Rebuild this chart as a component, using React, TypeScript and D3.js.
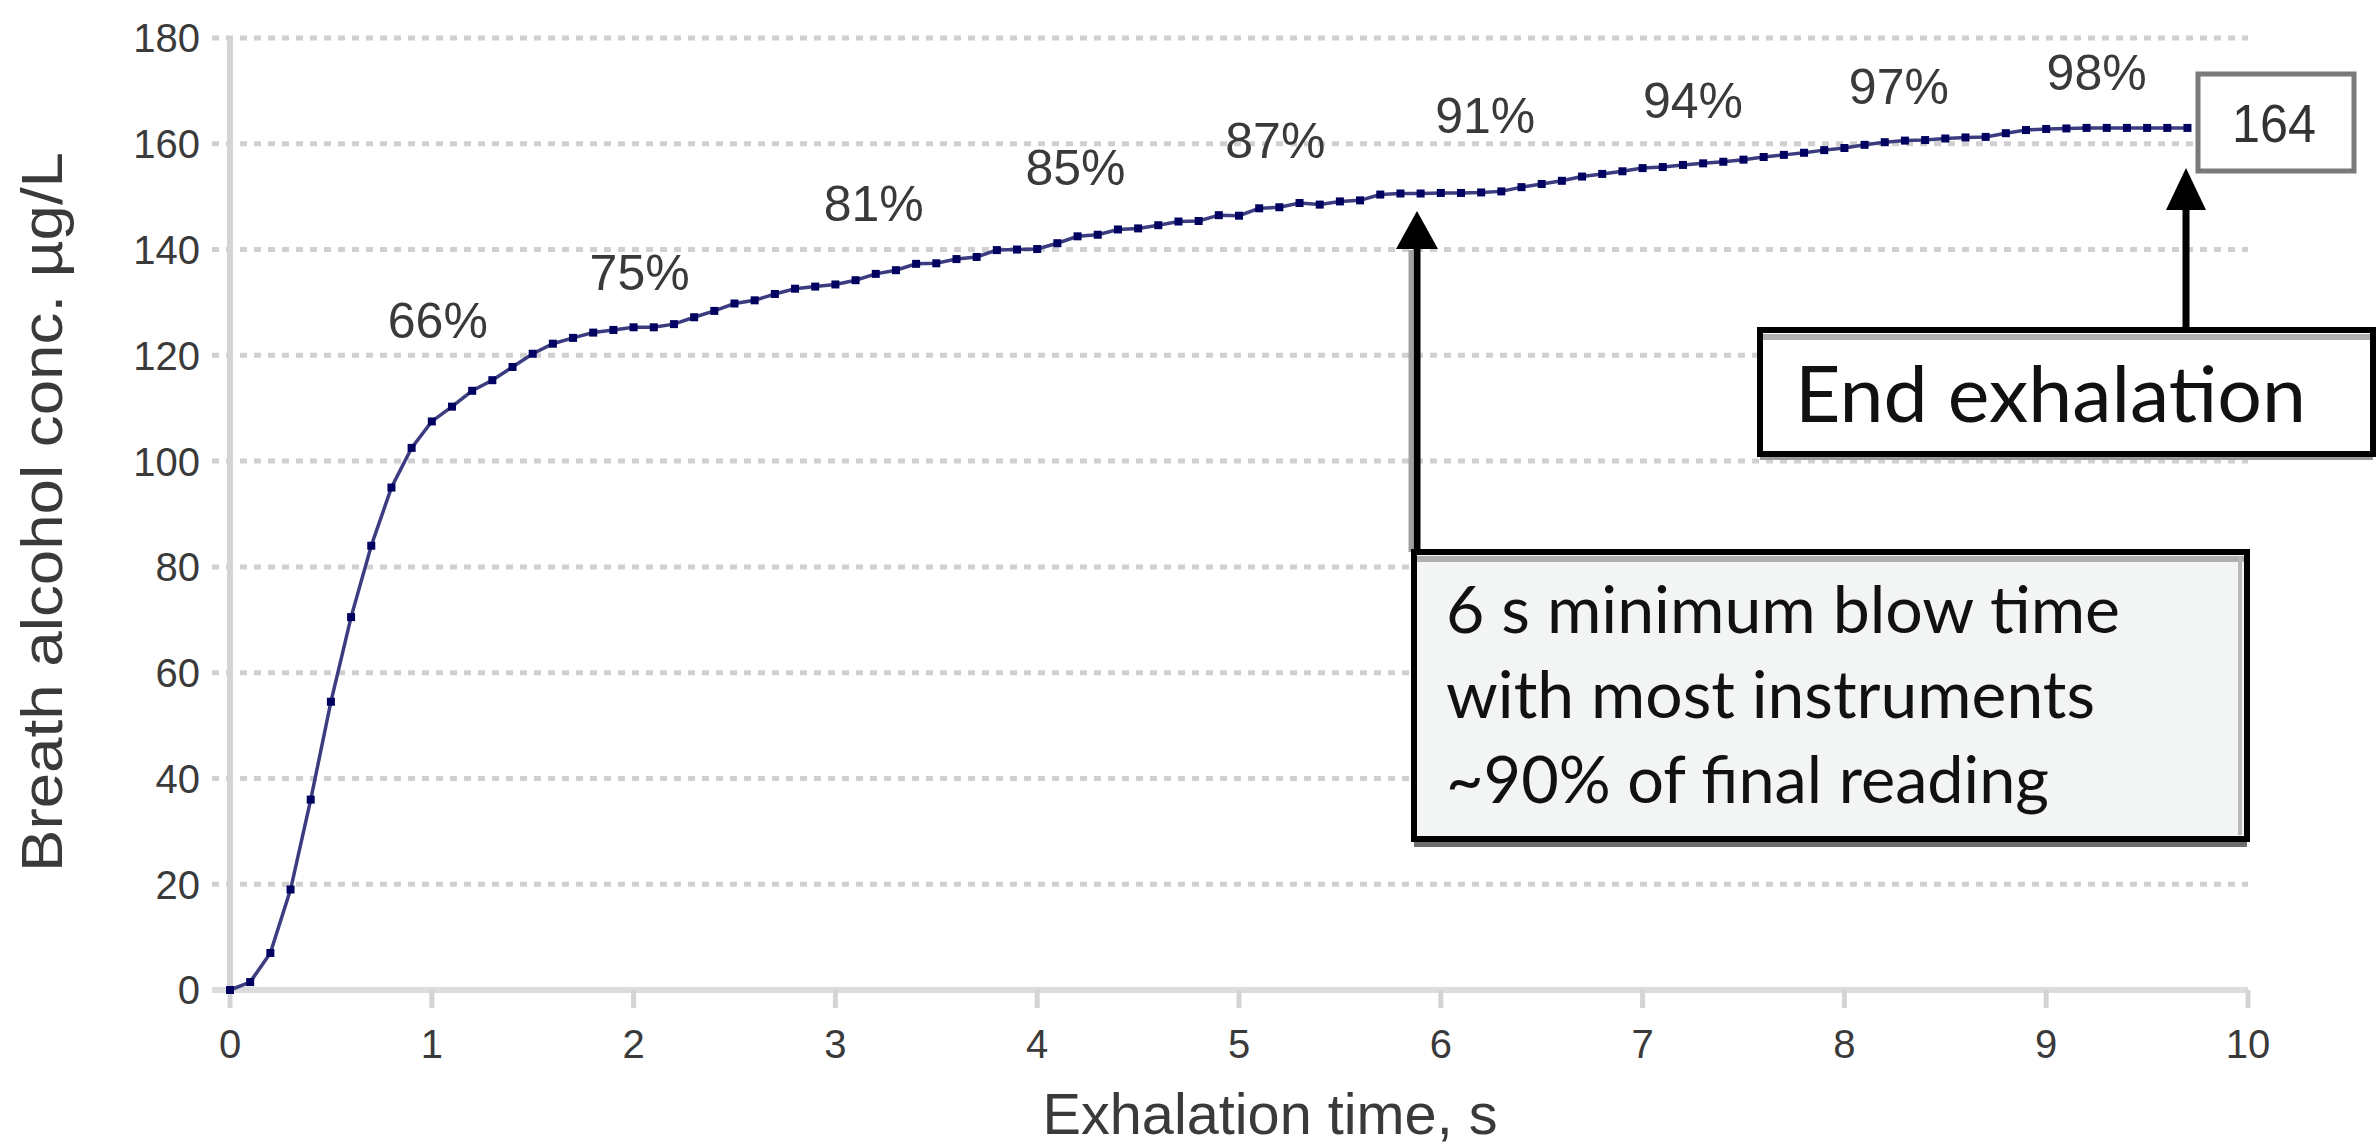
import React from "react";
import * as d3 from "d3";

// ---- data ----
const times = [
  0.0, 0.1, 0.2, 0.3, 0.4, 0.5, 0.6, 0.7, 0.8, 0.9,
  1.0, 1.1, 1.2, 1.3, 1.4, 1.5, 1.6, 1.7, 1.8, 1.9,
  2.0, 2.1, 2.2, 2.3, 2.4, 2.5, 2.6, 2.7, 2.8, 2.9,
  3.0, 3.1, 3.2, 3.3, 3.4, 3.5, 3.6, 3.7, 3.8, 3.9,
  4.0, 4.1, 4.2, 4.3, 4.4, 4.5, 4.6, 4.7, 4.8, 4.9,
  5.0, 5.1, 5.2, 5.3, 5.4, 5.5, 5.6, 5.7, 5.8, 5.9,
  6.0, 6.1, 6.2, 6.3, 6.4, 6.5, 6.6, 6.7, 6.8, 6.9,
  7.0, 7.1, 7.2, 7.3, 7.4, 7.5, 7.6, 7.7, 7.8, 7.9,
  8.0, 8.1, 8.2, 8.3, 8.4, 8.5, 8.6, 8.7, 8.8, 8.9,
  9.0, 9.1, 9.2, 9.3, 9.4, 9.5, 9.6, 9.7,
];
const concentration = [
  0, 1.5, 7, 19, 36, 54.5, 70.5, 84, 95, 102.5,
  107.5, 110.3, 113.3, 115.3, 117.8, 120.3, 122.2, 123.3, 124.3, 124.8,
  125.3, 125.3, 125.9, 127.2, 128.4, 129.8, 130.4, 131.6, 132.6, 133.0,
  133.4, 134.2, 135.4, 136.1, 137.3, 137.4, 138.2, 138.6, 139.9, 140.0,
  140.1, 141.2, 142.5, 142.8, 143.8, 144.0, 144.6, 145.3, 145.4, 146.5,
  146.4, 147.8, 148.0, 148.8, 148.5, 149.1, 149.3, 150.4, 150.6, 150.6,
  150.7, 150.7, 150.8, 151.0, 151.8, 152.4, 153.0, 153.8, 154.3, 154.8,
  155.4, 155.6, 156.0, 156.3, 156.6, 157.0, 157.5, 157.9, 158.3, 158.8,
  159.2, 159.8, 160.3, 160.6, 160.7, 161.0, 161.2, 161.3, 162.0, 162.6,
  162.8, 162.9, 163.0, 163.0, 163.0, 163.0, 163.0, 163.0,
];
const yTicks = [0, 20, 40, 60, 80, 100, 120, 140, 160, 180];
const xTicks = [0, 1, 2, 3, 4, 5, 6, 7, 8, 9, 10];
const pctLabels = ["66%", "75%", "81%", "85%", "87%", "91%", "94%", "97%", "98%"];
const pctLabelT = [1.03, 2.03, 3.19, 4.19, 5.18, 6.22, 7.25, 8.27, 9.25];
const pctLabelV = [126.7, 135.7, 148.8, 155.7, 160.7, 165.4, 168.3, 171.0, 173.6];
const finalReading = "164";
const xTitle = "Exhalation time, s";
const yTitle = "Breath alcohol conc. \u00b5g/L";
const endLabel = "End exhalation";
const noteLines = ["6 s minimum blow time", "with most instruments", "~90% of final reading"];

const W = 2377;
const H = 1146;
const AX = "'Liberation Sans', Arial, sans-serif";
const CAL = "Lato, 'Open Sans', sans-serif";

export default function App() {
  const x = d3.scaleLinear().domain([0, 10]).range([230, 2248]);
  const y = d3.scaleLinear().domain([0, 180]).range([990, 38]);
  const pts = times.map((t, i) => [t, concentration[i]] as [number, number]);
  const line = d3.line<[number, number]>().x((d) => x(d[0])).y((d) => y(d[1]));

  React.useEffect(() => {
    document.body.style.margin = "0";
  }, []);

  const ms = 8;
  return (
    <div style={{ position: "absolute", left: 0, top: 0 }}>
      <svg width={W} height={H} viewBox={`0 0 ${W} ${H}`} style={{ display: "block", background: "#fff" }}>
        {/* gridlines */}
        {yTicks.filter((v) => v > 0).map((v) => (
          <line key={"g" + v} x1={212} x2={x(10)} y1={y(v)} y2={y(v)}
            stroke="#d0d0d0" strokeWidth={5} strokeDasharray="7,7" />
        ))}
        {/* axes */}
        <line x1={x(0)} x2={x(0)} y1={y(180)} y2={y(0)} stroke="#d4d4d4" strokeWidth={6} />
        <line x1={212} x2={x(10)} y1={y(0)} y2={y(0)} stroke="#dcdcdc" strokeWidth={6} />
        {xTicks.map((t) => (
          <line key={"xt" + t} x1={x(t)} x2={x(t)} y1={y(0)} y2={y(0) + 18} stroke="#d4d4d4" strokeWidth={5} />
        ))}
        {yTicks.map((v) => (
          <text key={"yl" + v} x={200} y={y(v)} dy="0.36em" textAnchor="end"
            fontFamily={AX} fontSize={40} fill="#3a3a3a">{v}</text>
        ))}
        {xTicks.map((t) => (
          <text key={"xl" + t} x={x(t)} y={1044} dy="0.36em" textAnchor="middle"
            fontFamily={AX} fontSize={40} fill="#3a3a3a">{t}</text>
        ))}
        <text x={1270} y={1134} textAnchor="middle" fontFamily={AX} fontSize={58} fill="#3a3a3a"
          textLength={455} lengthAdjust="spacingAndGlyphs">{xTitle}</text>
        <text transform={`translate(62, ${512}) rotate(-90)`} textAnchor="middle" fontFamily={AX}
          fontSize={58} fill="#3a3a3a" textLength={720} lengthAdjust="spacingAndGlyphs">{yTitle}</text>

        {/* series */}
        <path d={line(pts) || ""} fill="none" stroke="#3c3c80" strokeWidth={3.5} />
        {pts.map((p, i) => (
          <rect key={"m" + i} x={x(p[0]) - ms / 2} y={y(p[1]) - ms / 2} width={ms} height={ms} fill="#000060" />
        ))}

        {/* percentage labels */}
        {pctLabels.map((s, i) => (
          <text key={"p" + i} x={x(pctLabelT[i])} y={y(pctLabelV[i])} dy="0.36em" textAnchor="middle"
            fontFamily={AX} fontSize={50} fill="#3a3a3a">{s}</text>
        ))}

        {/* final reading box */}
        <rect x={2198} y={74} width={156} height={97} fill="#fff" stroke="#7a7a7a" strokeWidth={5} />
        <text x={2274} y={123} dy="0.36em" textAnchor="middle" fontFamily={AX} fontSize={54} fill="#333"
          textLength={84} lengthAdjust="spacingAndGlyphs">{finalReading}</text>

        {/* end exhalation arrow */}
        <line x1={2186} x2={2186} y1={330} y2={200} stroke="#000" strokeWidth={7} />
        <path d="M2186,168 L2206,210 L2166,210 Z" fill="#000" />
        {/* end exhalation box */}
        <rect x={1760} y={336} width={613} height={124} fill="#9a9a9a" />
        <rect x={1760} y={330} width={613} height={124} fill="#fff" stroke="#000" strokeWidth={6} />
        <line x1={1763} x2={2370} y1={337} y2={337} stroke="#b0b0b0" strokeWidth={6} />
        <text x={1795} y={422} fontFamily={CAL} fontSize={78} fill="#111"
          textLength={511} lengthAdjust="spacingAndGlyphs">{endLabel}</text>

        {/* 6 s arrow */}
        <line x1={1417} x2={1417} y1={552} y2={245} stroke="#000" strokeWidth={7} />
        <line x1={1411} x2={1411} y1={552} y2={250} stroke="#a0a0a0" strokeWidth={5} />
        <path d="M1417,211 L1438,249 L1396,249 Z" fill="#000" />
        {/* 6 s note box */}
        <rect x={1414} y={560} width={833} height={287} fill="#6e6e6e" />
        <rect x={1414} y={552} width={833} height={287} fill="#f3f5f4" stroke="#000" strokeWidth={6} />
        <line x1={1417} x2={2244} y1={559} y2={559} stroke="#b0b0b0" strokeWidth={6} />
        <line x1={2240} x2={2240} y1={556} y2={835} stroke="#b8b8b8" strokeWidth={4} />
        {noteLines.map((s, i) => (
          <text key={"n" + i} x={1446} y={633 + i * 85} fontFamily={CAL} fontSize={66} fill="#111"
            textLength={[674, 649, 603][i]} lengthAdjust="spacingAndGlyphs">{s}</text>
        ))}
      </svg>
    </div>
  );
}
